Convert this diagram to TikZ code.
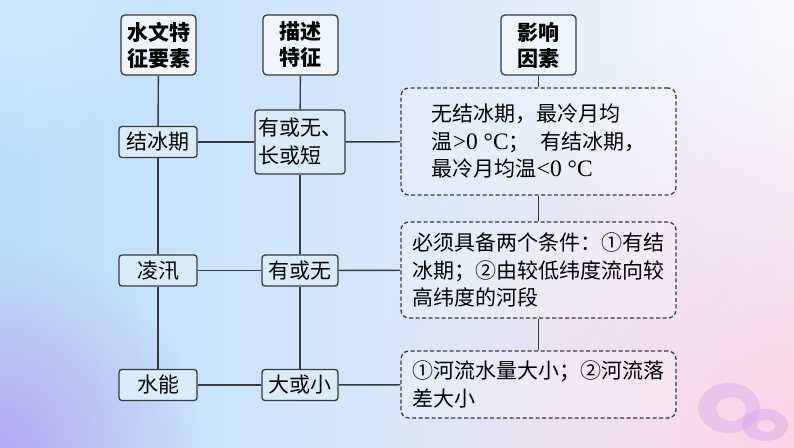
\documentclass[tikz,border=0pt]{standalone}
\usepackage{fontspec}
\setmainfont{Noto Sans CJK SC}
\newfontfamily\latinserif[Scale=1.12]{Liberation Serif}
\usetikzlibrary{fadings}
\definecolor{linec}{HTML}{363B42}
\definecolor{smallfill}{HTML}{D9ECFA}
\definecolor{titlefill}{HTML}{EEF5FC}
\definecolor{bgleft}{RGB}{188,222,250}
\definecolor{bgright}{RGB}{242,242,251}
\definecolor{purplec}{RGB}{180,170,242}
\definecolor{pinkc}{RGB}{250,212,230}
\definecolor{ringc}{RGB}{205,150,240}
\tikzfading[name=radfade, inner color=transparent!0, outer color=transparent!100]
\tikzset{
  conn/.style={draw=linec, line width=1.4pt},
  titlebox/.style={draw=linec, line width=1.3pt, rounded corners=4pt, fill=titlefill,
    minimum width=75pt, minimum height=60pt, inner sep=0pt, align=center,
    font=\bfseries\fontsize{21}{26}\selectfont},
  smallbox/.style={draw=linec, line width=1.3pt, rounded corners=3pt, fill=smallfill,
    minimum width=78pt, minimum height=31pt, inner sep=0pt, align=center,
    font=\fontsize{21}{28}\selectfont},
  dashbox/.style={draw=linec, line width=1.3pt, dashed, dash pattern=on 4pt off 2.5pt,
    rounded corners=8pt, fill=white, fill opacity=0.25, text opacity=1,
    minimum width=275pt, inner sep=0pt, align=left,
    font=\fontsize{21}{27.5}\selectfont}
}
\begin{document}
\begin{tikzpicture}[x=1pt,y=-1pt]
\useasboundingbox (0,0) rectangle (794,447);
% background
\shade[left color=bgleft, right color=bgright] (0,0) rectangle (794,447);
\fill[white, opacity=0.3, path fading=radfade] (0,0) circle (170);
\fill[pinkc, path fading=radfade] (794,447) circle (420);
\fill[purplec, path fading=radfade] (0,447) circle (200);
\fill[white, opacity=0.5, path fading=radfade] (794,0) circle (300);
% rings
\fill[ringc, opacity=0.3, even odd rule] (729,408) ellipse (31 and 25) (731,409) ellipse (15 and 12);
\fill[ringc, opacity=0.35, even odd rule] (765,425) ellipse (23 and 16) (766,426) ellipse (9 and 6);
% title boxes
\node[titlebox] (t1) at (158.5,45) {水文特\\征要素};
\node[titlebox] (t2) at (300.5,45) {描述\\特征};
\node[titlebox] (t3) at (538.5,45) {影响\\因素};
% left column
\node[smallbox] (a1) at (158,142) {结冰期};
\node[smallbox] (a2) at (158,270.5) {凌汛};
\node[smallbox] (a3) at (158,385) {水能};
% middle column
\node[smallbox, minimum width=90pt, minimum height=64pt, align=left] (b1) at (300,142) {有或无、\\长或短};
\node[smallbox, minimum width=76pt] (b2) at (300,270.5) {有或无};
\node[smallbox, minimum width=76pt] (b3) at (300,385) {大或小};
% dashed boxes
\node[dashbox, minimum height=107pt] (c1) at (538.5,141.5)
  {无结冰期，最冷月均\\温{\latinserif >0 °C}；\hspace{0.5em}有结冰期，\\最冷月均温{\latinserif <0 °C}};
\node[dashbox, minimum height=96pt] (c2) at (538.5,270)
  {必须具备两个条件：①有结\\冰期；②由较低纬度流向较\\高纬度的河段};
\node[dashbox, minimum height=67pt] (c3) at (538.5,384.5)
  {①河流水量大小；②河流落\\差大小};
% connectors
\draw[conn] (t1) -- (a1);
\draw[conn] (a1) -- (a2);
\draw[conn] (a2) -- (a3);
\draw[conn] (t2) -- (b1);
\draw[conn] (b1) -- (b2);
\draw[conn] (b2) -- (b3);
\draw[conn] (a1) -- (b1);
\draw[conn] (a2) -- (b2);
\draw[conn] (a3) -- (b3);
\draw[conn] (b1) -- (c1);
\draw[conn] (b2) -- (c2);
\draw[conn] (b3) -- (c3);
\draw[conn] (t3) -- (c1);
\draw[conn] (c1) -- (c2);
\draw[conn] (c2) -- (c3);
\end{tikzpicture}
\end{document}
